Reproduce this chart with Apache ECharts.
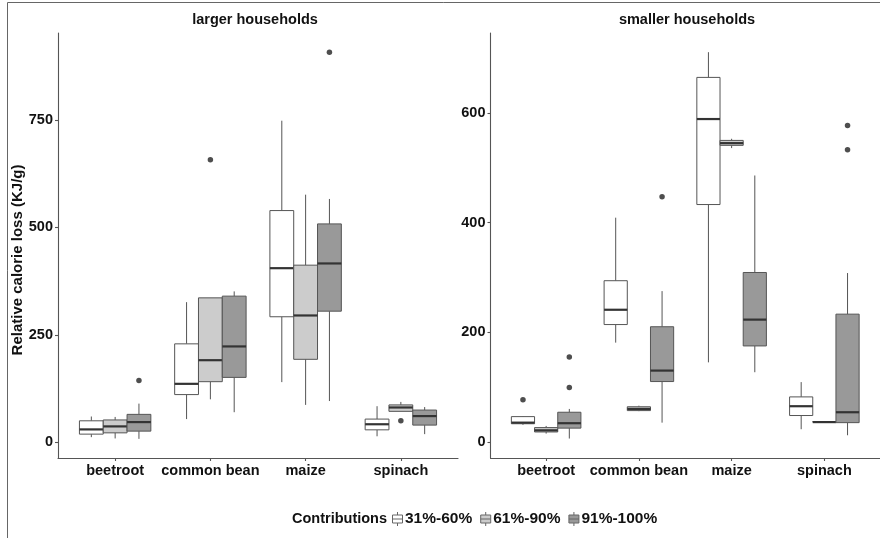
<!DOCTYPE html>
<html>
<head>
<meta charset="utf-8">
<script src="https://cdn.jsdelivr.net/npm/echarts@6/dist/echarts.min.js"></script>
<style>
html,body{margin:0;padding:0;background:#fff;}
#chart{width:880px;height:538px;}
</style>
</head>
<body>
<div id="chart"></div>
<script>
// ---------------- data ----------------
const crops = ['beetroot', 'common bean', 'maize', 'spinach'];
const groups = ['31%-60%', '61%-90%', '91%-100%'];
const panelTitles = ['larger households', 'smaller households'];
// each entry per crop: [min, Q1, median, Q3, max]
const largerLow  = [[12, 19, 30, 50, 60], [54, 111, 136, 229, 326], [140, 292, 405, 539, 748], [14, 29, 42, 54, 84]];
const largerMid  = [[9, 22, 37, 52, 59], [100, 141, 191, 336, 336], [87, 193, 295, 412, 576], [72, 72, 81, 87, 94]];
const largerHigh = [[8, 26, 47, 65, 90], [70, 151, 223, 340, 351], [96, 305, 416, 508, 566], [19, 40, 61, 75, 82]];
const smallerLow  = [[31, 33, 35, 46, 47], [181, 214, 241, 294, 409], [145, 433, 589, 665, 711], [23, 48, 65, 82, 109]];
const smallerMid  = [[15, 18, 21, 26, 29], [56, 57, 60, 64, 66], [536, 541, 545, 550, 553], [35, 36, 36, 37, 38]];
const smallerHigh = [[6, 25, 34, 54, 60], [35, 110, 130, 210, 275], [127, 175, 223, 309, 486], [12, 35, 54, 233, 308]];
// outliers: [cropIndex, groupIndex, value]
const largerOutliers  = [[0, 2, 144], [1, 1, 657], [2, 2, 907], [3, 1, 50]];
const smallerOutliers = [[0, 0, 77], [0, 2, 99], [0, 2, 155], [1, 2, 447], [3, 2, 577], [3, 2, 533]];
const largerTicks  = [0, 250, 500, 750];
const smallerTicks = [0, 200, 400, 600];

// ---------------- styling ----------------
const FONT = '"Liberation Sans", Arial, sans-serif';
const fills = ['#ffffff', '#cccccc', '#999999'];
const boxBorder = '#555555';
const medianColor = '#333333';
const dodge = 0.25;

const panels = [
  { stats: [largerLow, largerMid, largerHigh], outliers: largerOutliers, ticks: largerTicks,
    grid: { left: 58, top: 33, width: 400, bottom: 80 }, yMin: -36.5, yMax: 952 },
  { stats: [smallerLow, smallerMid, smallerHigh], outliers: smallerOutliers, ticks: smallerTicks,
    grid: { left: 490.5, top: 33, width: 398, bottom: 80 }, yMin: -29.5, yMax: 746 }
];

const grids = [], xAxes = [], yAxes = [], series = [];
const axisLineStyle = { color: '#555', width: 1.1 };

panels.forEach((p, pi) => {
  grids.push(p.grid);
  xAxes.push({
    gridIndex: pi, type: 'value', min: -0.6, max: 3.6,
    axisLine: { show: true, onZero: false, lineStyle: axisLineStyle },
    axisTick: { show: true, length: 3, lineStyle: axisLineStyle, customValues: [0, 1, 2, 3] },
    axisLabel: { show: true, customValues: [0, 1, 2, 3], formatter: v => crops[Math.round(v)] || '',
      color: '#111', fontFamily: FONT, fontWeight: 'bold', fontSize: 14.5, margin: 5 },
    splitLine: { show: false }
  });
  yAxes.push({
    gridIndex: pi, type: 'value', min: p.yMin, max: p.yMax,
    axisLine: { show: true, onZero: false, lineStyle: axisLineStyle },
    axisTick: { show: true, length: 3, lineStyle: axisLineStyle, customValues: p.ticks },
    axisLabel: { show: true, customValues: p.ticks, color: '#111', fontFamily: FONT,
      fontWeight: 'bold', fontSize: 14.5, margin: 5 },
    splitLine: { show: false }
  });
  p.stats.forEach((arr, gi) => {
    series.push({
      type: 'custom', name: groups[gi], xAxisIndex: pi, yAxisIndex: pi,
      itemStyle: { color: fills[gi], borderColor: boxBorder, borderWidth: 1 },
      data: arr.map((s, ci) => [ci + (gi - 1) * dodge].concat(s)),
      encode: { x: 0, y: [1, 2, 3, 4, 5] },
      renderItem: (params, api) => {
        const x = api.value(0);
        const w = api.size([dodge, 0])[0];
        const pMin = api.coord([x, api.value(1)]);
        const pQ1 = api.coord([x, api.value(2)]);
        const pMed = api.coord([x, api.value(3)]);
        const pQ3 = api.coord([x, api.value(4)]);
        const pMax = api.coord([x, api.value(5)]);
        const cx = pMed[0];
        const ls = { stroke: boxBorder, lineWidth: 1 };
        return { type: 'group', children: [
          { type: 'line', shape: { x1: cx, y1: pMax[1], x2: cx, y2: pQ3[1] }, style: ls },
          { type: 'line', shape: { x1: cx, y1: pQ1[1], x2: cx, y2: pMin[1] }, style: ls },
          { type: 'rect', shape: { x: cx - w / 2, y: pQ3[1], width: w, height: pQ1[1] - pQ3[1] },
            style: { fill: fills[gi], stroke: boxBorder, lineWidth: 1 } },
          { type: 'line', shape: { x1: cx - w / 2, y1: pMed[1], x2: cx + w / 2, y2: pMed[1] },
            style: { stroke: medianColor, lineWidth: 2.2 } }
        ] };
      }
    });
  });
  series.push({
    type: 'scatter', name: 'outliers', xAxisIndex: pi, yAxisIndex: pi,
    symbolSize: 5.5, itemStyle: { color: '#222' }, silent: true,
    data: p.outliers.map(o => [o[0] + (o[1] - 1) * dodge, o[2]])
  });
});

const legendIcon = 'path://M5,0L5,3M0,3L10,3L10,11L0,11ZM0,7L10,7M5,11L5,14';

const option = {
  animation: false,
  backgroundColor: '#fff',
  grid: grids,
  xAxis: xAxes,
  yAxis: yAxes,
  series: series,
  legend: {
    left: 392, top: 511, orient: 'horizontal', padding: 0,
    itemWidth: 11, itemHeight: 14, itemGap: 8,
    textStyle: { color: '#111', fontFamily: FONT, fontWeight: 'bold', fontSize: 15.5, padding: [0, 0, 0, -3] },
    data: groups.map((g, gi) => ({ name: g, icon: legendIcon,
      itemStyle: { color: fills[gi], borderColor: '#666', borderWidth: 1 } }))
  },
  graphic: [
    { type: 'line', shape: { x1: 7.5, y1: 2.5, x2: 880, y2: 2.5 }, style: { stroke: '#666', lineWidth: 1 } },
    { type: 'line', shape: { x1: 7.5, y1: 2.5, x2: 7.5, y2: 538 }, style: { stroke: '#666', lineWidth: 1 } },
    { type: 'text', x: 255, y: 20, style: { text: panelTitles[0], textAlign: 'center', textVerticalAlign: 'middle',
      font: 'bold 14.5px ' + FONT, fill: '#111' } },
    { type: 'text', x: 687, y: 20, style: { text: panelTitles[1], textAlign: 'center', textVerticalAlign: 'middle',
      font: 'bold 14.5px ' + FONT, fill: '#111' } },
    { type: 'text', x: 18, y: 260, rotation: Math.PI / 2, style: { text: 'Relative calorie loss (KJ/g)',
      textAlign: 'center', textVerticalAlign: 'middle', font: 'bold 15px ' + FONT, fill: '#111' } },
    { type: 'text', x: 292, y: 519, style: { text: 'Contributions', textAlign: 'left', textVerticalAlign: 'middle',
      font: 'bold 14.5px ' + FONT, fill: '#111' } }
  ]
};

const chart = echarts.init(document.getElementById('chart'), null, { renderer: 'canvas' });
chart.setOption(option);
</script>
</body>
</html>
